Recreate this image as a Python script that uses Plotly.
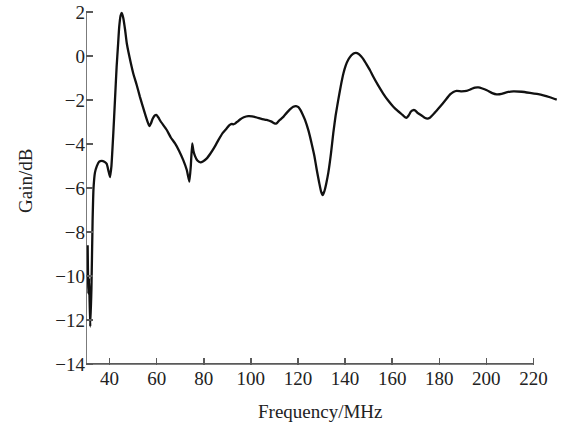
import plotly.graph_objects as go

freq_mhz = [30.7, 31.0, 31.3, 31.8, 32.3, 32.8, 33.2, 33.8, 34.6, 35.6, 36.7, 37.8, 38.8, 39.6, 40.2,
            40.8, 41.6, 42.3, 43.0, 43.6, 44.1, 44.7, 45.2, 45.8, 46.6, 47.3, 48.0, 49.0, 50.1, 51.5,
            52.9, 55.0, 56.2, 56.9, 57.6, 58.3, 59.2, 60.0, 60.8, 61.6, 64.3, 66.0, 67.8, 69.5, 71.3,
            72.8, 73.9, 74.5, 75.1, 75.6, 76.3, 77.3, 78.6, 79.8, 81.3, 82.7, 84.5, 86.2, 88.0, 89.7,
            90.8, 91.9, 92.6, 93.3, 94.3, 95.4, 97.0, 98.9, 100.5, 102.5, 104.5, 106.7, 108.8, 110.3,
            111.0, 112.3, 113.8, 115.2, 116.6, 118.0, 119.2, 120.2, 120.9, 122.0, 123.0, 124.5, 125.8,
            127.0, 128.0, 129.0, 129.8, 130.5, 131.2, 132.0, 132.9, 134.0, 135.0, 136.0, 137.1, 138.2,
            139.3, 140.3, 141.4, 142.6, 143.6, 144.6, 145.8, 146.8, 147.7, 149.0, 150.6, 152.0, 154.0,
            156.2, 158.3, 160.5, 162.5, 164.5, 165.5, 166.2, 167.0, 168.0, 169.0, 169.8, 170.8, 172.5,
            173.8, 175.0, 176.0, 178.0, 180.3, 182.5, 184.6, 186.0, 187.4, 189.5, 191.6, 193.5, 195.2,
            196.6, 198.3, 200.2, 202.5, 204.4, 206.5, 208.5, 211.5, 215.0, 218.5, 221.5, 224.2, 227.0,
            229.9]
gain_db = [-8.6, -10.8, -10.1, -12.3, -10.6, -7.5, -6.0, -5.3, -5.0, -4.8, -4.76, -4.8, -4.9, -5.25, -5.5,
           -5.0, -3.5, -2.0, -0.5, 0.5, 1.33, 1.85, 1.97, 1.75, 1.2, 0.6, 0.2, -0.3, -0.8, -1.3,
           -1.85, -2.6, -3.0, -3.18, -3.05, -2.85, -2.7, -2.68, -2.8, -2.95, -3.36, -3.7, -3.97, -4.3, -4.73,
           -5.18, -5.71, -5.0, -3.97, -4.3, -4.55, -4.75, -4.83, -4.78, -4.65, -4.45, -4.15, -3.82, -3.5, -3.29,
           -3.15, -3.08, -3.1, -3.07, -2.98, -2.88, -2.78, -2.73, -2.74, -2.79, -2.85, -2.9, -2.98, -3.07,
           -3.05, -2.9, -2.76, -2.58, -2.42, -2.3, -2.27, -2.32, -2.42, -2.65, -2.9, -3.4, -3.97,
           -4.55, -5.18, -5.75, -6.15, -6.32, -6.15, -5.8, -5.3, -4.45, -3.5, -2.7, -2.0, -1.35,
           -0.79, -0.42, -0.15, 0.03, 0.12, 0.15, 0.1, 0.0, -0.12, -0.35, -0.64, -0.94, -1.32,
           -1.7, -2.02, -2.3, -2.5, -2.68, -2.78, -2.8, -2.7, -2.52, -2.45, -2.47, -2.58, -2.7,
           -2.8, -2.84, -2.8, -2.58, -2.3, -2.02, -1.74, -1.63, -1.58, -1.6, -1.58, -1.5, -1.43,
           -1.42, -1.47, -1.55, -1.68, -1.74, -1.72, -1.65, -1.6, -1.62, -1.67, -1.72, -1.78, -1.87,
           -1.98]

x_ticks = [40, 60, 80, 100, 120, 140, 160, 180, 200, 220]
y_ticks = [-14, -12, -10, -8, -6, -4, -2, 0, 2]

W, H = 564, 428
ML, MR, MT, MB = 86, 7, 10, 63
FONT = "Liberation Serif"
AXIS_C = "#5a5a5a"
TEXT_C = "#222222"

fig = go.Figure()
fig.add_trace(go.Scatter(x=freq_mhz, y=gain_db, mode="lines",
                         line=dict(color="#111111", width=2.3, shape="spline", smoothing=0.4),
                         showlegend=False, hoverinfo="skip"))

fig.update_layout(
    width=W, height=H,
    margin=dict(l=ML, r=MR, t=MT, b=MB, autoexpand=False),
    paper_bgcolor="white", plot_bgcolor="white",
    font=dict(family=FONT, size=19, color=TEXT_C),
    xaxis=dict(range=[30, 230], tickvals=x_ticks, ticks="inside", ticklen=7, tickwidth=1.5,
               tickcolor=AXIS_C, showgrid=False, zeroline=False, showline=False, automargin=False,
               tickfont=dict(family=FONT, size=19, color=TEXT_C)),
    yaxis=dict(range=[-14.05, 2.1], tickvals=y_ticks, ticks="inside", ticklen=7, tickwidth=1.5,
               tickcolor=AXIS_C, showgrid=False, zeroline=False, showline=False, automargin=False,
               tickfont=dict(family=FONT, size=19, color=TEXT_C)),
    shapes=[
        dict(type="line", xref="x", yref="y", x0=30, x1=220, y0=-14, y1=-14,
             line=dict(color=AXIS_C, width=1.6)),
        dict(type="line", xref="x", yref="y", x0=30, x1=30, y0=-14, y1=2,
             line=dict(color=AXIS_C, width=1.6)),
    ],
    annotations=[
        dict(text="Frequency/MHz", xref="paper", yref="paper",
             x=(320 - ML) / (W - ML - MR), y=-(411 - (H - MB)) / (H - MT - MB),
             showarrow=False, xanchor="center", yanchor="middle",
             font=dict(family=FONT, size=19, color=TEXT_C)),
        dict(text="Gain/dB", xref="paper", yref="paper",
             x=(25 - ML) / (W - ML - MR), y=1 - (181 - MT) / (H - MT - MB),
             showarrow=False, xanchor="center", yanchor="middle", textangle=-90,
             font=dict(family=FONT, size=19, color=TEXT_C)),
    ],
)

fig.write_html("out.html",
               config={"displayModeBar": False, "staticPlot": True},
               post_script="document.body.style.margin='0';document.body.style.overflow='hidden';")
